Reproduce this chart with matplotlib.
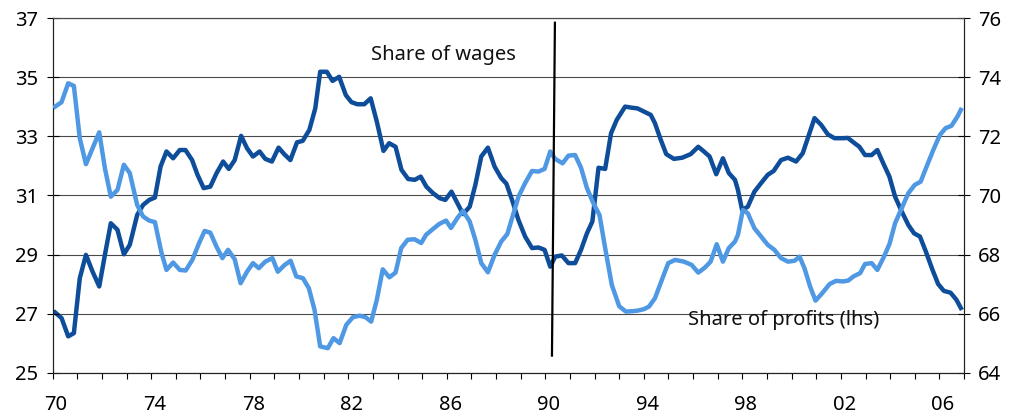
import matplotlib
matplotlib.use("Agg")
import matplotlib.pyplot as plt
import matplotlib.transforms as mtransforms

plt.rcParams['font.family'] = ['Noto Sans', 'DejaVu Sans']

# Share of profits (lhs)
profit_years = [1970.10, 1970.36, 1970.63, 1970.86, 1971.10, 1971.35, 1971.62, 1971.89,
                1972.12, 1972.36, 1972.63, 1972.89, 1973.13, 1973.43, 1973.67, 1973.92,
                1974.15, 1974.42, 1974.62, 1974.89, 1975.16, 1975.40, 1975.67, 1975.94,
                1976.17, 1976.40, 1976.65, 1976.89, 1977.12, 1977.39, 1977.63, 1977.89,
                1978.13, 1978.37, 1978.63, 1978.92, 1979.14, 1979.42, 1979.66, 1979.89,
                1980.16, 1980.40, 1980.63, 1980.86, 1981.17, 1981.40, 1981.65, 1981.92,
                1982.19, 1982.46, 1982.70, 1982.93, 1983.16, 1983.40, 1983.67, 1983.92,
                1984.15, 1984.41, 1984.69, 1984.96, 1985.16, 1985.43, 1985.70, 1985.97,
                1986.17, 1986.44, 1986.66, 1986.93, 1987.16, 1987.40, 1987.67, 1987.94,
                1988.21, 1988.46, 1988.65, 1988.91, 1989.18, 1989.46, 1989.72, 1989.97,
                1990.20, 1990.40, 1990.70, 1990.94, 1991.21, 1991.45, 1991.69, 1991.95,
                1992.20, 1992.43, 1992.70, 1993.00, 1993.27, 1993.50, 1993.74, 1994.00,
                1994.21, 1994.45, 1994.73, 1994.99, 1995.27, 1995.63, 1995.94, 1996.21,
                1996.48, 1996.71, 1996.96, 1997.21, 1997.45, 1997.70, 1997.82, 1998.02,
                1998.22, 1998.49, 1998.76, 1999.03, 1999.30, 1999.57, 1999.85, 2000.12,
                2000.32, 2000.52, 2000.75, 2000.97, 2001.24, 2001.54, 2001.80, 2002.08,
                2002.30, 2002.51, 2002.78, 2002.98, 2003.25, 2003.48, 2003.72, 2003.97,
                2004.20, 2004.47, 2004.74, 2005.00, 2005.24, 2005.48, 2005.75, 2006.02,
                2006.25, 2006.49, 2006.73, 2006.87]
profits = [34.01, 34.16, 34.80, 34.71, 32.94, 32.06, 32.60, 33.14,
           31.92, 30.96, 31.19, 32.04, 31.76, 30.68, 30.29, 30.15,
           30.10, 29.05, 28.48, 28.73, 28.48, 28.46, 28.82, 29.38,
           29.80, 29.74, 29.27, 28.88, 29.16, 28.84, 28.03, 28.42,
           28.71, 28.54, 28.76, 28.88, 28.42, 28.65, 28.79, 28.26,
           28.20, 27.86, 27.13, 25.89, 25.83, 26.17, 26.00, 26.62,
           26.88, 26.93, 26.88, 26.73, 27.47, 28.50, 28.23, 28.39,
           29.22, 29.50, 29.52, 29.39, 29.67, 29.86, 30.04, 30.15,
           29.90, 30.25, 30.48, 30.12, 29.50, 28.71, 28.40, 28.99,
           29.44, 29.70, 30.23, 30.96, 31.42, 31.83, 31.81, 31.90,
           32.49, 32.24, 32.09, 32.35, 32.37, 31.94, 31.25, 30.74,
           30.34, 29.22, 27.97, 27.25, 27.07, 27.08, 27.10, 27.15,
           27.24, 27.52, 28.14, 28.71, 28.82, 28.76, 28.65, 28.39,
           28.56, 28.76, 29.35, 28.76, 29.22, 29.44, 29.67, 30.51,
           30.40, 29.89, 29.61, 29.33, 29.16, 28.88, 28.76, 28.79,
           28.93, 28.54, 27.92, 27.44, 27.69, 28.00, 28.11, 28.09,
           28.12, 28.26, 28.37, 28.68, 28.71, 28.48, 28.88, 29.35,
           30.06, 30.57, 31.08, 31.36, 31.47, 31.98, 32.54, 33.05,
           33.28, 33.36, 33.67, 33.90]

# Share of wages (rhs)
wage_years = [1970.10, 1970.36, 1970.63, 1970.86, 1971.10, 1971.35, 1971.62, 1971.89,
              1972.12, 1972.36, 1972.63, 1972.89, 1973.13, 1973.43, 1973.67, 1973.92,
              1974.15, 1974.38, 1974.62, 1974.89, 1975.16, 1975.39, 1975.66, 1975.88,
              1976.13, 1976.40, 1976.65, 1976.92, 1977.15, 1977.39, 1977.65, 1977.89,
              1978.13, 1978.40, 1978.63, 1978.90, 1979.17, 1979.40, 1979.65, 1979.92,
              1980.15, 1980.42, 1980.66, 1980.86, 1981.13, 1981.36, 1981.63, 1981.90,
              1982.13, 1982.37, 1982.65, 1982.91, 1983.16, 1983.43, 1983.66, 1983.92,
              1984.16, 1984.43, 1984.70, 1984.94, 1985.17, 1985.44, 1985.71, 1985.94,
              1986.19, 1986.43, 1986.66, 1986.93, 1987.16, 1987.40, 1987.67, 1987.94,
              1988.21, 1988.42, 1988.65, 1988.91, 1989.18, 1989.46, 1989.72, 1989.97,
              1990.20, 1990.40, 1990.67, 1990.94, 1991.21, 1991.45, 1991.69, 1991.91,
              1992.16, 1992.43, 1992.67, 1992.90, 1993.24, 1993.53, 1993.74, 1994.01,
              1994.28, 1994.45, 1994.69, 1994.91, 1995.22, 1995.56, 1995.90, 1996.21,
              1996.44, 1996.67, 1996.94, 1997.21, 1997.45, 1997.70, 1997.82, 1997.99,
              1998.22, 1998.49, 1998.76, 1999.03, 1999.27, 1999.57, 1999.85, 2000.18,
              2000.45, 2000.70, 2000.93, 2001.20, 2001.47, 2001.74, 2002.08, 2002.28,
              2002.51, 2002.75, 2002.98, 2003.25, 2003.48, 2003.72, 2003.97, 2004.20,
              2004.47, 2004.74, 2004.97, 2005.21, 2005.45, 2005.72, 2005.95, 2006.18,
              2006.45, 2006.69, 2006.87]
wages = [66.04, 65.85, 65.23, 65.34, 67.20, 67.99, 67.42, 66.92,
         67.99, 69.06, 68.84, 68.01, 68.33, 69.34, 69.68, 69.85,
         69.93, 70.98, 71.49, 71.26, 71.54, 71.54, 71.20, 70.70,
         70.25, 70.30, 70.75, 71.15, 70.90, 71.20, 72.02, 71.60,
         71.32, 71.49, 71.24, 71.15, 71.62, 71.40, 71.20, 71.80,
         71.85, 72.22, 72.95, 74.19, 74.19, 73.88, 74.02, 73.40,
         73.16, 73.09, 73.09, 73.29, 72.50, 71.51, 71.77, 71.65,
         70.87, 70.56, 70.53, 70.64, 70.30, 70.08, 69.91, 69.85,
         70.13, 69.74, 69.37, 69.62, 70.36, 71.32, 71.62, 70.98,
         70.59, 70.40, 69.85, 69.17, 68.61, 68.22, 68.24, 68.16,
         67.59, 67.93, 67.97, 67.71, 67.71, 68.16, 68.72, 69.12,
         70.94, 70.90, 72.11, 72.56, 73.01, 72.97, 72.95, 72.84,
         72.73, 72.45, 71.88, 71.40, 71.24, 71.28, 71.40, 71.65,
         71.49, 71.32, 70.72, 71.26, 70.76, 70.53, 70.19, 69.51,
         69.62, 70.13, 70.42, 70.70, 70.83, 71.20, 71.28, 71.15,
         71.43, 72.05, 72.62, 72.39, 72.07, 71.94, 71.94, 71.95,
         71.80, 71.65, 71.37, 71.37, 71.54, 71.09, 70.64, 69.96,
         69.46, 69.00, 68.72, 68.61, 68.10, 67.48, 67.00, 66.77,
         66.71, 66.47, 66.19]

# marker line around 1990 (lhs units)
divider_x = [1990.39, 1990.27]
divider_y = [36.85, 25.58]

x_ticks = list(range(1970, 2008))
x_labels = ['70', '74', '78', '82', '86', '90', '94', '98', '02', '06']
left_ticks = [25, 27, 29, 31, 33, 35, 37]
right_ticks = [64, 66, 68, 70, 72, 74, 76]

dark_blue = '#0e4d99'
light_blue = '#4f98e3'
grid_col = '#4a4a4a'

fig = plt.figure(figsize=(10.27, 4.16), dpi=100)
ax = fig.add_axes([0.0513, 0.1041, 0.8874, 0.8519])
ax2 = ax.twinx()

ax.plot(profit_years, profits, color=light_blue, lw=3.2, solid_joinstyle='round', zorder=3)
ax2.plot(wage_years, wages, color=dark_blue, lw=3.2, solid_joinstyle='round', zorder=3)
ax.plot(divider_x, divider_y, color='black', lw=1.6, zorder=5)
ax.set_zorder(ax2.get_zorder() + 1)
ax.patch.set_visible(False)

ax.set_xlim(1970, 2007)
ax.set_ylim(25, 37)
ax2.set_ylim(64, 76)

ax.set_yticks(left_ticks)
ax.set_yticklabels([str(t) for t in left_ticks])
ax2.set_yticks(right_ticks)
ax2.set_yticklabels([str(t) for t in right_ticks])

ax.set_xticks(x_ticks, minor=True)
ax.set_xticks(list(range(1970, 2007, 4)))
ax.set_xticklabels(x_labels)

ax2.grid(axis='y', color=grid_col, lw=0.8)
ax2.set_axisbelow(True)

for a in (ax, ax2):
    for s in a.spines.values():
        s.set_color('#222222')
        s.set_linewidth(0.8)
    a.spines['top'].set_color(grid_col)

ax.tick_params(axis='y', direction='inout', length=8.5, width=0.8, labelsize=14.5, pad=6)
ax2.tick_params(axis='y', direction='inout', length=8.5, width=0.8, labelsize=14.5, pad=6)
ax.tick_params(axis='x', which='both', direction='out', length=4.2, width=0.8, labelsize=14.5, pad=12)

# shift x labels slightly right as in the original
offset = mtransforms.ScaledTranslation(3.5 / 100, 0, fig.dpi_scale_trans)
for lab in ax.get_xticklabels():
    lab.set_transform(lab.get_transform() + offset)

ax.text(1982.94, 35.76, 'Share of wages', fontsize=14.5, ha='left', va='center', color='#111111')
ax.text(1995.8, 26.79, 'Share of profits (lhs)', fontsize=14.5, ha='left', va='center', color='#111111')

fig.savefig('out.png', dpi=100)
